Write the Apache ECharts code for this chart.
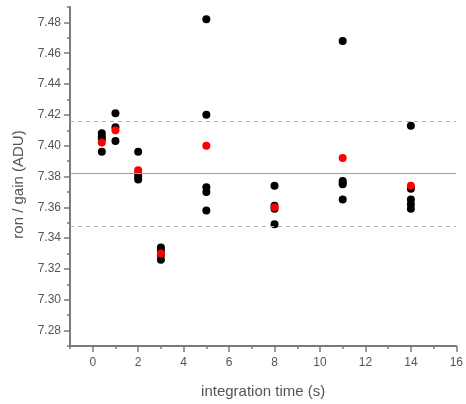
<!DOCTYPE html>
<html>
<head>
<meta charset="utf-8">
<script src="https://cdn.jsdelivr.net/npm/echarts@6/dist/echarts.min.js"></script>
<style>
  html, body { margin: 0; padding: 0; background: #fff; }
  #chart { width: 466px; height: 404px; }
</style>
</head>
<body>
<div id="chart"></div>
<script>
// Integration times (s) of each measurement group
const times = [0.4, 1, 2, 3, 5, 8, 11, 14];

// Individual readout-noise / gain measurements (ADU) per integration time
const run_0_4 = [7.408, 7.406, 7.404, 7.396];
const run_1 = [7.421, 7.412, 7.403];
const run_2 = [7.396, 7.382, 7.380, 7.378];
const run_3 = [7.334, 7.332, 7.329, 7.326];
const run_5 = [7.482, 7.420, 7.373, 7.370, 7.358];
const run_8 = [7.374, 7.361, 7.359, 7.349];
const run_11 = [7.468, 7.377, 7.376, 7.375, 7.365];
const run_14 = [7.413, 7.372, 7.365, 7.362, 7.359];
const runs = [run_0_4, run_1, run_2, run_3, run_5, run_8, run_11, run_14];

// Mean value per integration time
const means = [7.402, 7.410, 7.384, 7.330, 7.400, 7.360, 7.392, 7.374];

// Overall mean and its +/- band
const overallMean = 7.382;
const bandLimits = [7.416, 7.348];

// Axis tick labels
const xTickLabels = [0, 2, 4, 6, 8, 10, 12, 14, 16];
const yTickLabels = [7.28, 7.30, 7.32, 7.34, 7.36, 7.38, 7.40, 7.42, 7.44, 7.46, 7.48];

const blackPoints = [];
times.forEach((t, i) => runs[i].forEach(v => blackPoints.push([t, v])));
const redPoints = times.map((t, i) => [t, means[i]]);

const axisColor = '#7a7a7a';
const labelColor = '#555';
const fontFamily = 'Liberation Sans, Arial, sans-serif';

const chart = echarts.init(document.getElementById('chart'), null, { renderer: 'canvas' });

chart.setOption({
  animation: false,
  backgroundColor: '#fff',
  grid: { left: 70, right: 8, top: 7, bottom: 55, containLabel: false },
  xAxis: [
    {
      type: 'value', min: -1, max: 16, interval: 1,
      name: 'integration time (s)', nameLocation: 'middle', nameGap: 38,
      nameTextStyle: { color: labelColor, fontSize: 15, fontFamily },
      axisLine: { show: true, onZero: false, lineStyle: { color: axisColor, width: 2 } },
      axisTick: { show: true, inside: false, length: 3, lineStyle: { color: axisColor, width: 1.5 } },
      axisLabel: {
        color: labelColor, fontSize: 12, fontFamily, margin: 11,
        customValues: xTickLabels, formatter: v => String(v)
      },
      splitLine: { show: false }
    },
    {
      type: 'value', min: -1, max: 16, position: 'bottom',
      axisLine: { show: false, onZero: false },
      axisTick: { show: true, inside: false, length: 6, customValues: xTickLabels, lineStyle: { color: axisColor, width: 1.5 } },
      axisLabel: { show: false },
      splitLine: { show: false }
    }
  ],
  yAxis: [
    {
      type: 'value', min: 7.27, max: 7.49, interval: 0.01,
      name: 'ron / gain (ADU)', nameLocation: 'middle', nameGap: 44, nameRotate: 90,
      nameTextStyle: { color: labelColor, fontSize: 15, fontFamily, padding: [0, 16, 0, 0] },
      axisLine: { show: true, onZero: false, lineStyle: { color: axisColor, width: 2 } },
      axisTick: { show: true, inside: false, length: 3, lineStyle: { color: axisColor, width: 1.5 } },
      axisLabel: {
        color: labelColor, fontSize: 12, fontFamily, margin: 9,
        customValues: yTickLabels, formatter: v => v.toFixed(2)
      },
      splitLine: { show: false }
    },
    {
      type: 'value', min: 7.27, max: 7.49, position: 'left',
      axisLine: { show: false, onZero: false },
      axisTick: { show: true, inside: false, length: 6, customValues: yTickLabels, lineStyle: { color: axisColor, width: 1.5 } },
      axisLabel: { show: false },
      splitLine: { show: false }
    }
  ],
  series: [
    {
      name: 'measurements', type: 'scatter', xAxisIndex: 0, yAxisIndex: 0,
      data: blackPoints, symbol: 'circle', symbolSize: 8,
      itemStyle: { color: '#000', opacity: 1 },
      markLine: {
        silent: true, symbol: 'none', precision: 4, label: { show: false },
        data: [
          { yAxis: overallMean, lineStyle: { color: '#a0a0a0', type: 'solid', width: 1.2 } },
          { yAxis: bandLimits[0], lineStyle: { color: '#b0b0b0', type: [4, 4], width: 1.2 } },
          { yAxis: bandLimits[1], lineStyle: { color: '#b0b0b0', type: [4, 4], width: 1.2 } }
        ]
      },
      z: 3
    },
    {
      name: 'mean', type: 'scatter', xAxisIndex: 0, yAxisIndex: 0,
      data: redPoints, symbol: 'circle', symbolSize: 8,
      itemStyle: { color: '#ff0000', opacity: 1 },
      z: 4
    }
  ]
});
</script>
</body>
</html>
